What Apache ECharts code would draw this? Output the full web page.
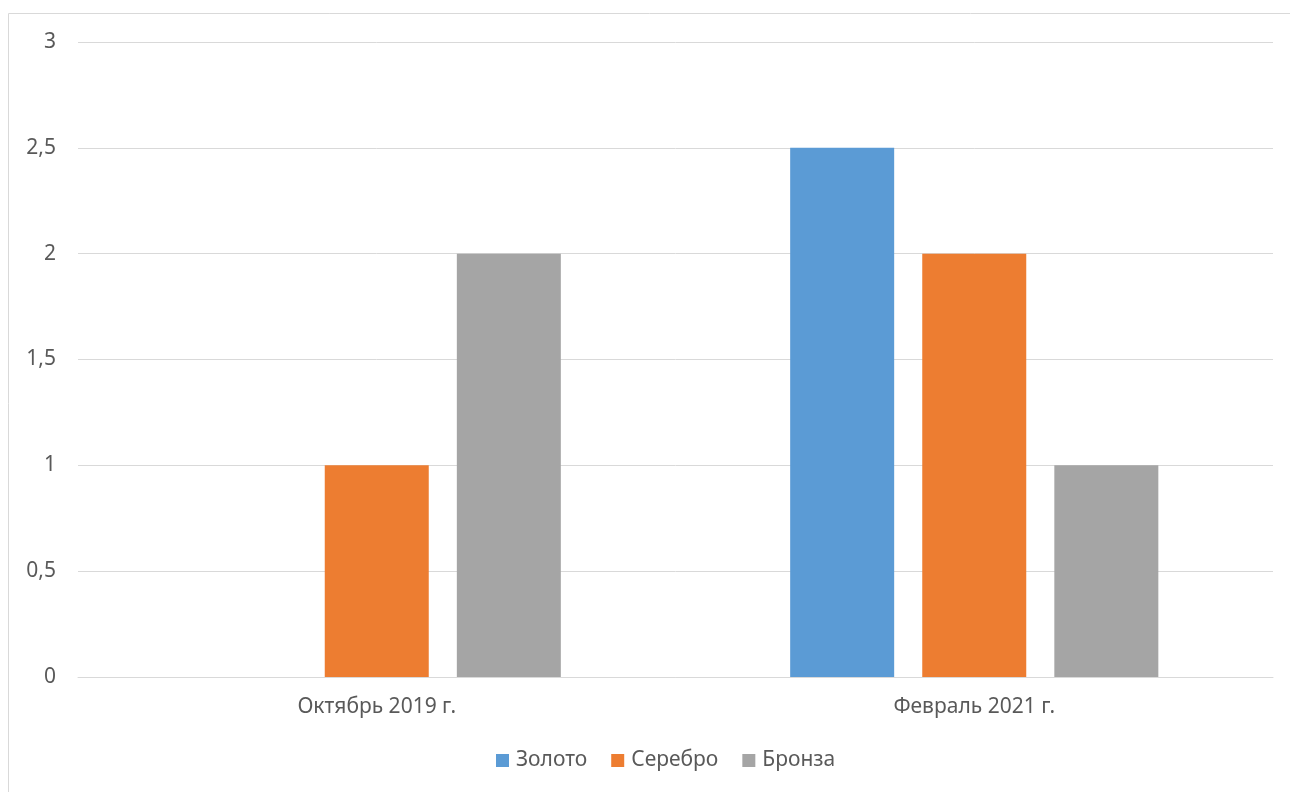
<!DOCTYPE html>
<html><head><meta charset="utf-8">
<script src="https://cdn.jsdelivr.net/npm/echarts@6/dist/echarts.min.js"></script>
<style>html,body{margin:0;padding:0;background:#fff}#c{width:1290px;height:792px}</style>
</head><body><div id="c"></div>
<script>
const categories = ["Октябрь 2019 г.", "Февраль 2021 г."];
const seriesNames = ["Золото", "Серебро", "Бронза"];
const gold = [0, 2.5];
const silver = [1, 2];
const bronze = [2, 1];
const colors = ["#5B9BD5", "#ED7D31", "#A5A5A5"];
const font = "Noto Sans";
const chart = echarts.init(document.getElementById('c'), null, {renderer: 'canvas'});
const values = [gold, silver, bronze];
chart.setOption({
  animation: false,
  textStyle: {fontFamily: font},
  graphic: [{type: 'rect', shape: {x: 8.5, y: 13.5, width: 1300, height: 800}, style: {fill: 'none', stroke: '#d9d9d9', lineWidth: 1}, silent: true}],
  grid: {left: 78, right: 17, top: 42, bottom: 115},
  legend: {bottom: 16, left: 491, itemWidth: 13, itemHeight: 13, itemGap: 24, icon: 'rect',
    textStyle: {fontFamily: font, fontSize: 21, color: '#595959', padding: [0, 0, 0, 2]},
    data: seriesNames},
  xAxis: {type: 'category', data: categories,
    axisLine: {lineStyle: {color: '#d9d9d9'}}, axisTick: {show: false},
    axisLabel: {fontFamily: font, fontSize: 21, color: '#595959', margin: 20}},
  yAxis: {type: 'value', min: 0, max: 3, interval: 0.5,
    axisLine: {show: false}, axisTick: {show: false},
    splitLine: {lineStyle: {color: '#d9d9d9'}},
    axisLabel: {fontFamily: font, fontSize: 21, color: '#595959', margin: 22,
      formatter: v => String(v).replace('.', ',')}},
  series: seriesNames.map((n, i) => ({
    name: n, type: 'bar', data: values[i], barWidth: 104, barGap: '27%',
    itemStyle: {color: colors[i]}
  }))
});
</script></body></html>
